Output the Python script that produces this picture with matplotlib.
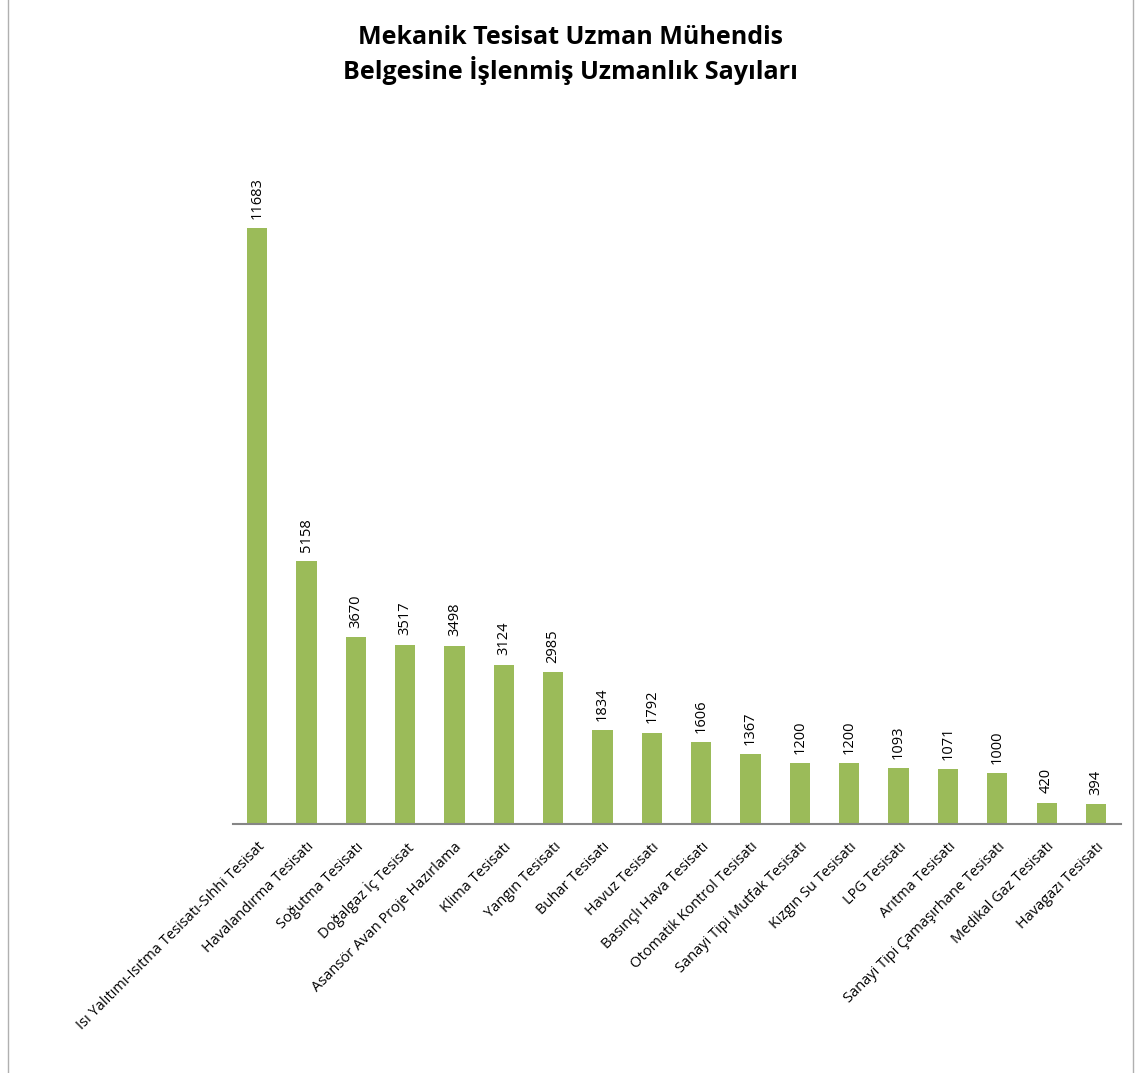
import matplotlib.pyplot as plt
from matplotlib.patches import Rectangle

plt.rcParams['font.family'] = ['Open Sans', 'DejaVu Sans']

categories = [
    "Isı Yalıtımı-Isıtma Tesisatı-Sıhhi Tesisat",
    "Havalandırma Tesisatı",
    "Soğutma Tesisatı",
    "Doğalgaz İç Tesisat",
    "Asansör Avan Proje Hazırlama",
    "Klima Tesisatı",
    "Yangın Tesisatı",
    "Buhar Tesisatı",
    "Havuz Tesisatı",
    "Basınçlı Hava Tesisatı",
    "Otomatik Kontrol Tesisatı",
    "Sanayi Tipi Mutfak Tesisatı",
    "Kızgın Su Tesisatı",
    "LPG Tesisatı",
    "Arıtma Tesisatı",
    "Sanayi Tipi Çamaşırhane Tesisatı",
    "Medikal Gaz Tesisatı",
    "Havagazı Tesisatı",
]
values = [11683, 5158, 3670, 3517, 3498, 3124, 2985, 1834, 1792, 1606,
          1367, 1200, 1200, 1093, 1071, 1000, 420, 394]

fig = plt.figure(figsize=(11.4, 10.73), dpi=100)
ax = fig.add_axes([0.204, 0.232, 0.779, 0.666])

x = range(len(categories))
ax.bar(x, values, width=0.41, color="#9BBB59")

for i, v in enumerate(values):
    ax.text(i, v + 180, str(v), rotation=90, ha="center", va="bottom",
            fontsize=10.5)

ax.set_xlim(-0.5, len(categories) - 0.5)
ax.set_ylim(0, 14000)
ax.set_xticks(list(x))
ax.set_xticklabels(categories, rotation=45, ha="right", rotation_mode="anchor",
                   fontsize=10.5)
ax.tick_params(axis="x", length=0, pad=11)
ax.set_yticks([])
for s in ["top", "right", "left"]:
    ax.spines[s].set_visible(False)
ax.spines["bottom"].set_color("#868686")
ax.spines["bottom"].set_linewidth(1.5)

fig.text(0.5, 0.949, "Mekanik Tesisat Uzman Mühendis\nBelgesine İşlenmiş Uzmanlık Sayıları",
         ha="center", va="center", fontsize=18, fontweight="bold", linespacing=1.25)

fig.patches.append(Rectangle((0.007, -0.01), 0.987, 1.02, transform=fig.transFigure,
                             fill=False, edgecolor="#b0b0b0", linewidth=1))

fig.savefig("out.png", dpi=100)
